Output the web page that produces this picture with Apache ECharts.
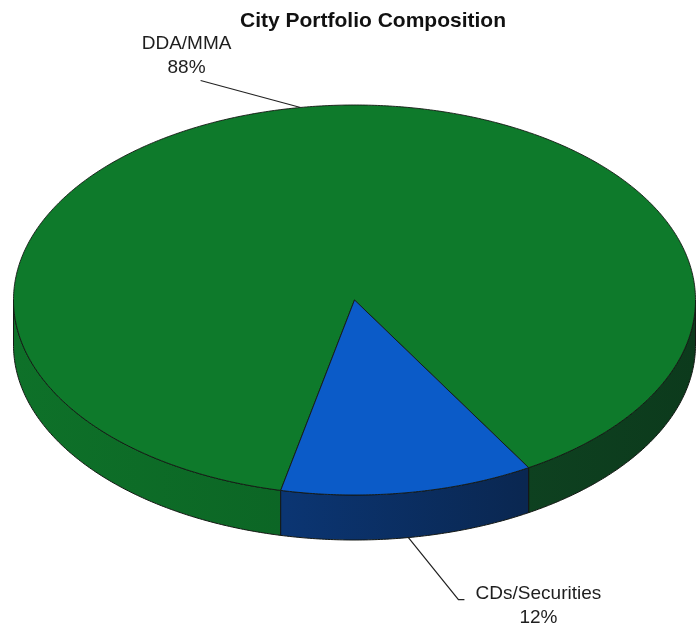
<!DOCTYPE html>
<html>
<head>
<meta charset="utf-8">
<script src="https://cdn.jsdelivr.net/npm/echarts@6/dist/echarts.min.js"></script>
<style>
  html, body { margin: 0; padding: 0; background: #ffffff; }
  #chart { width: 698px; height: 631px; }
</style>
</head>
<body>
<div id="chart"></div>
<script>
// Portfolio slices
const categories = ['DDA/MMA', 'CDs/Securities'];
const values = [88, 12];

// Styling
const topColors = ['#0e7a2b', '#0b5bc8'];
const sideStops = [
  [[0, '#0e7129'], [0.4, '#0c6625'], [0.75, '#0e4120'], [1, '#0c3a1c']],
  [[0, '#0b3a7a'], [0.4, '#0b3572'], [0.75, '#0a2751'], [1, '#0a2248']]
];
const edgeColor = '#141814';
const FONT = '"Liberation Sans", Arial, sans-serif';

// Tilted disc geometry (screen angles, clockwise from 3 o'clock)
const disc = { cx: 354.5, cy: 300, rx: 341, ry: 195, depth: 45, startAngle: 102.5 };

// Leader line and label placement for each slice
const leaders = [
  { dx: -100, dy: -27, tail: 0, textDx: -14, textDy: -1, align: 'center', vAlign: 'bottom' },
  { dx: 50, dy: 62, tail: 6, textDx: 74, textDy: 6, align: 'center', vAlign: 'middle' }
];

const total = values.reduce((a, b) => a + b, 0);
const sliceAngles = [];
(function () {
  let acc = 0;
  values.forEach(v => {
    const a1 = disc.startAngle + 360 * acc / total;
    acc += v;
    const a2 = disc.startAngle + 360 * acc / total;
    sliceAngles.push([a1, a2]);
  });
})();

function pt(a, off) {
  const r = a * Math.PI / 180;
  return [disc.cx + disc.rx * Math.cos(r), disc.cy + disc.ry * Math.sin(r) + (off || 0)];
}
function arc(a1, a2, off) {
  const pts = [];
  const n = Math.max(2, Math.ceil(Math.abs(a2 - a1) / 0.5));
  for (let i = 0; i <= n; i++) pts.push(pt(a1 + (a2 - a1) * i / n, off));
  return pts;
}

function renderItem(params, api) {
  const i = params.dataIndex;
  const [a1, a2] = sliceAngles[i];
  const children = [];

  const sideFill = new echarts.graphic.LinearGradient(
    disc.cx - disc.rx, 0, disc.cx + disc.rx, 0,
    sideStops[i].map(s => ({ offset: s[0], color: s[1] })), true
  );

  // visible front wall pieces (screen angles 0..180)
  [-360, 0, 360].forEach(k => {
    const lo = Math.max(a1, k), hi = Math.min(a2, k + 180);
    if (hi > lo) {
      const pts = arc(lo, hi, 0).concat(arc(hi, lo, disc.depth));
      children.push({
        type: 'polygon', z2: 1,
        shape: { points: pts },
        style: { fill: sideFill, stroke: edgeColor, lineWidth: 1, lineJoin: 'round' }
      });
    }
  });

  // top face
  const topPts = [[disc.cx, disc.cy]].concat(arc(a1, a2, 0));
  children.push({
    type: 'polygon', z2: 2,
    shape: { points: topPts },
    style: { fill: topColors[i], stroke: edgeColor, lineWidth: 0.9, lineJoin: 'round' }
  });

  // leader line and label
  const mid = (a1 + a2) / 2;
  const m = ((mid % 360) + 360) % 360;
  const anchor = pt(mid, (m > 0 && m < 180) ? disc.depth : 0);
  const L = leaders[i];
  const bend = [anchor[0] + L.dx, anchor[1] + L.dy];
  const end = [bend[0] + L.tail, bend[1]];
  children.push({
    type: 'polyline', z2: 3,
    shape: { points: [anchor, bend, end] },
    style: { stroke: '#222222', lineWidth: 1.2, fill: null }
  });
  const pct = Math.round(api.value(0) / total * 100) + '%';
  children.push({
    type: 'text', z2: 4,
    style: {
      text: categories[i] + '\n' + pct,
      x: end[0] + L.textDx, y: end[1] + L.textDy,
      align: L.align, verticalAlign: L.vAlign,
      textAlign: L.align, textVerticalAlign: L.vAlign,
      fill: '#1e1e1e', fontSize: 19, fontFamily: FONT, lineHeight: 24
    }
  });

  return { type: 'group', children };
}

const chart = echarts.init(document.getElementById('chart'), null, { renderer: 'canvas' });
chart.setOption({
  backgroundColor: '#ffffff',
  animation: false,
  title: {
    text: 'City Portfolio Composition',
    left: 235, top: 6,
    textStyle: { fontSize: 21, fontWeight: 'bold', color: '#111111', fontFamily: FONT }
  },
  series: [{
    type: 'custom',
    coordinateSystem: 'none',
    renderItem: renderItem,
    data: values.map((v, i) => ({ name: categories[i], value: v }))
  }]
});
</script>
</body>
</html>
